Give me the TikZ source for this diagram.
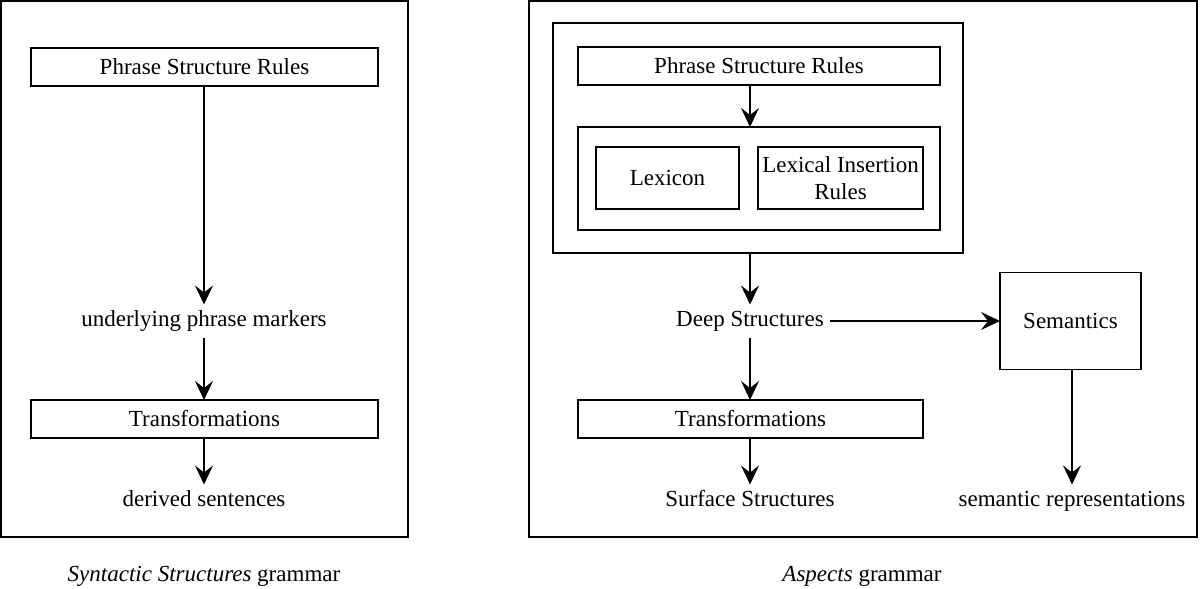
\documentclass[tikz,border=0pt]{standalone}
\usepackage{fontspec}
\setmainfont{Liberation Serif}
\usetikzlibrary{arrows.meta}
\begin{document}
\begin{tikzpicture}[x=1pt,y=-1pt,
 frame/.style={draw,line width=1.6pt,inner sep=0pt,outer sep=0pt},
 box/.style={draw,line width=1.3pt,inner sep=0pt,outer sep=0pt,font=\fontsize{23}{27}\selectfont,align=center},
 lbl/.style={inner sep=0pt,outer sep=6pt,text height=16pt,text depth=5pt,font=\fontsize{23}{27}\selectfont},
 captxt/.style={inner sep=0pt,font=\fontsize{23}{27}\selectfont},
 arr/.style={-{Stealth[length=19pt,width=18pt,inset=7pt]},line width=1.3pt}]
\useasboundingbox (0,0) rectangle (1200,589);
% left grammar
\node[frame,minimum width=407pt,minimum height=536pt] (fL) at (204.5,269) {};
\node[box,minimum width=347pt,minimum height=38pt] (psrL) at (204.5,67) {Phrase Structure Rules};
\node[lbl] (upm) at (204,321) {underlying phrase markers};
\node[box,minimum width=347pt,minimum height=38pt] (transL) at (204.5,419) {Transformations};
\node[lbl] (dsent) at (204,501) {derived sentences};
\node[captxt] (capL) at (204,576) {\textit{Syntactic Structures} grammar};
\draw[arr] (psrL.south -| upm) -- (upm.north);
\draw[arr] (upm.south) -- (transL.north -| upm);
\draw[arr] (transL.south -| upm) -- (dsent.north);
% right grammar
\node[frame,minimum width=668pt,minimum height=536pt] (fR) at (863,269) {};
\node[frame,minimum width=410pt,minimum height=230pt] (inner) at (758,138) {};
\node[box,minimum width=362pt,minimum height=38pt] (psrR) at (759,66) {Phrase Structure Rules};
\node[box,minimum width=362pt,minimum height=103pt] (mid) at (759,178.5) {};
\node[box,minimum width=143pt,minimum height=62pt] (lex) at (667.5,178) {Lexicon};
\node[box,minimum width=165pt,minimum height=62pt] (lir) at (840.5,178) {Lexical Insertion\\Rules};
\node[lbl] (deep) at (750,321) {Deep Structures};
\node[box,minimum width=141pt,minimum height=97pt] (sem) at (1070.5,321) {Semantics};
\node[box,minimum width=345pt,minimum height=38pt] (transR) at (750.5,419) {Transformations};
\node[lbl] (surf) at (750,501) {Surface Structures};
\node[lbl] (semrep) at (1072,501) {semantic representations};
\node[captxt] (capR) at (862,576) {\textit{Aspects} grammar};
\draw[arr] (psrR.south -| deep) -- (mid.north -| deep);
\draw[arr] (inner.south -| deep) -- (deep.north);
\draw[arr] (deep.south) -- (transR.north -| deep);
\draw[arr] (transR.south -| deep) -- (surf.north);
\draw[arr] (deep.east) -- (sem.west |- deep.east);
\draw[arr] (sem.south -| semrep) -- (semrep.north);
\end{tikzpicture}
\end{document}
